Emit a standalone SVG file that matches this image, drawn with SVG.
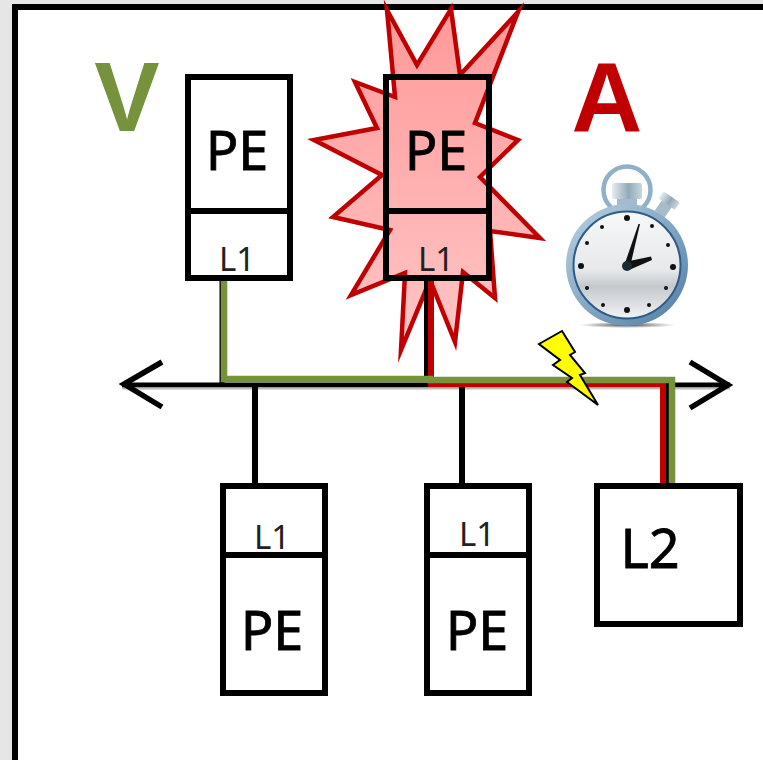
<svg xmlns="http://www.w3.org/2000/svg" width="763" height="760" viewBox="0 0 763 760">
<style>
.box{fill:none;stroke:#000;stroke-width:6;stroke-linejoin:miter}
.pe{font:54px "Noto Sans",sans-serif;fill:#000;stroke:#000;stroke-width:.8;text-anchor:middle}
.l1{font:33px "Noto Sans",sans-serif;fill:#222;text-anchor:middle}
.big{font:bold 98px "Liberation Sans",Arial,sans-serif;text-anchor:middle}
.wire{fill:none;stroke-linejoin:miter}
.tick{fill:#111}
</style>
<defs>
<linearGradient id="burst" x1="0" y1="0" x2="0" y2="1"><stop offset="0" stop-color="#ff9999"/><stop offset="1" stop-color="#ffc6c6"/></linearGradient>
<linearGradient id="rim" x1="0" y1="0" x2="1" y2="1"><stop offset="0" stop-color="#bcd3e3"/><stop offset=".5" stop-color="#84a8c4"/><stop offset="1" stop-color="#4f7ca0"/></linearGradient>
<linearGradient id="face" x1="0" y1="0" x2="0" y2="1"><stop offset="0" stop-color="#f7f8f8"/><stop offset=".55" stop-color="#e6e8ea"/><stop offset=".7" stop-color="#c4c9cd"/><stop offset="1" stop-color="#f2f3f4"/></linearGradient>
<linearGradient id="crown" x1="0" y1="0" x2="1" y2="0"><stop offset="0" stop-color="#e6edf1"/><stop offset=".55" stop-color="#93a9b8"/><stop offset="1" stop-color="#c9d6df"/></linearGradient>
<radialGradient id="shadow"><stop offset="0" stop-color="#444"/><stop offset="1" stop-color="#555" stop-opacity="0"/></radialGradient>
</defs>
<rect width="763" height="760" fill="#e6e6e6"/>
<rect x="15" y="7" width="760" height="770" fill="#fff" stroke="#000" stroke-width="6"/>

<g id="burst-shape">
<polygon points="387,10 417,65 451,9 460,75 518,12 475,123 518,140 480,177 540,238 490,231 495,298 463,272 455,342 430,280 401,350 405,273 351,295 390,230 333,217 382,175 314,140 377,128 355,82 395,97" fill="url(#burst)" stroke="#c00000" stroke-width="4.5" stroke-linejoin="miter" stroke-miterlimit="6"/>
</g>

<g id="connectors" class="wire">
<line x1="122" y1="385" x2="730" y2="385" stroke="#000" stroke-width="5"/>
<line x1="122" y1="388.500" x2="730" y2="388.500" stroke="#bbb" stroke-width="2"/>
<polyline points="162,362 124,384 162,407" stroke="#000" stroke-width="5.5"/>
<polyline points="690,362 728,385 690,408" stroke="#000" stroke-width="5.5"/>
<line x1="255" y1="385" x2="255" y2="486" stroke="#000" stroke-width="6"/>
<line x1="462" y1="385" x2="462" y2="486" stroke="#000" stroke-width="6"/>
<line x1="222" y1="278" x2="222" y2="383" stroke="#000" stroke-width="5"/>
<line x1="426.500" y1="278" x2="426.500" y2="382" stroke="#000" stroke-width="5"/>
<line x1="667" y1="384" x2="667" y2="486" stroke="#000" stroke-width="5"/>
<polyline points="431,278 431,384 663,384 663,484" stroke="#c00000" stroke-width="6"/>
<polyline points="224,278 224,379 430,379 430,380 672,380 672,486" stroke="#76923c" stroke-width="6.5"/>
</g>

<g id="node-v"><text class="big" x="127" y="131" fill="#76923c">V</text></g>
<g id="node-a"><text class="big" x="607" y="131" fill="#c00000">A</text></g>

<g id="node-pe-top-left">
<rect class="box" x="188" y="77" width="102" height="201"/><line class="box" x1="188" y1="211" x2="290" y2="211"/>
<text class="pe" x="237" y="170">PE</text><text class="l1" x="237" y="271">L1</text>
</g>
<g id="node-pe-top-failed">
<rect class="box" x="386" y="77" width="103" height="201"/><line class="box" x1="386" y1="211" x2="489" y2="211"/>
<text class="pe" x="436" y="170">PE</text><text class="l1" x="436" y="271">L1</text>
</g>
<g id="node-pe-bottom-left">
<rect class="box" x="223" y="486" width="102" height="207"/><line class="box" x1="223" y1="555" x2="325" y2="555"/>
<text class="l1" x="272" y="549">L1</text><text class="pe" x="272" y="650">PE</text>
</g>
<g id="node-pe-bottom-mid">
<rect class="box" x="427" y="486" width="102" height="207"/><line class="box" x1="427" y1="555" x2="529" y2="555"/>
<text class="l1" x="477" y="546">L1</text><text class="pe" x="477" y="650">PE</text>
</g>
<g id="node-l2">
<rect class="box" x="597" y="486" width="143" height="138"/>
<text class="pe" x="650" y="568">L2</text>
</g>

<g id="lightning">
<polygon points="562,331 575,352 570,355 585,373 580,375 598,405 567,382 572,378 553,365 560,360 539,344" fill="#ffff00" stroke="#000" stroke-width="2"/>
</g>

<g id="stopwatch">
<ellipse cx="627" cy="325" rx="48" ry="3" fill="url(#shadow)"/>
<circle cx="627" cy="190" r="23.500" fill="none" stroke="#8fb0c8" stroke-width="4.5"/>
<g transform="rotate(35 666 205)"><rect x="660" y="202" width="12" height="14" fill="#a7bccb"/><rect x="656" y="195" width="20" height="9" rx="1.500" fill="url(#crown)"/></g>
<rect x="617" y="197" width="20" height="8" fill="#a3bbcc"/>
<rect x="612" y="183" width="30" height="16" rx="2" fill="url(#crown)"/>
<circle cx="627" cy="265" r="61" fill="url(#rim)"/>
<circle cx="627" cy="265" r="53.500" fill="url(#face)" stroke="#2e5c8a" stroke-width="2"/>
<circle class="tick" cx="627" cy="218" r="3"/><circle class="tick" cx="673" cy="267" r="3"/><circle class="tick" cx="627" cy="310" r="3"/><circle class="tick" cx="581" cy="266" r="3"/>
<circle class="tick" cx="602" cy="227" r="2"/><circle class="tick" cx="652" cy="226" r="2"/><circle class="tick" cx="668" cy="245" r="2"/><circle class="tick" cx="666" cy="288" r="2"/><circle class="tick" cx="649" cy="305" r="2"/><circle class="tick" cx="603" cy="305" r="2"/><circle class="tick" cx="587" cy="288" r="2"/><circle class="tick" cx="587" cy="243" r="2"/>
<polygon points="624,266 630,267 640,224 638.500,224" fill="#111"/>
<polygon points="627,261.500 629,270 652,260 651,256.500" fill="#111"/>
<circle cx="627" cy="266" r="5" fill="#1c2a33"/>
</g>
</svg>
